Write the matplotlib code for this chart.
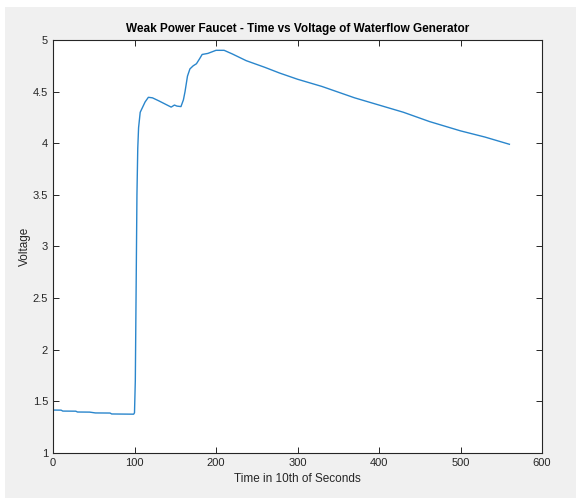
import matplotlib.pyplot as plt
from matplotlib.patches import Rectangle

# values
time = [0, 10, 12, 28, 30, 45, 52, 70, 72, 99, 100, 101, 102, 103, 104, 105,
        107, 110, 113, 117, 122, 130, 140, 145, 149, 152, 157, 160, 162, 165,
        168, 172, 176, 180, 183, 190, 200, 210, 220, 237, 260, 278, 300, 330,
        370, 400, 430, 462, 500, 530, 560]
voltage = [1.416, 1.415, 1.406, 1.405, 1.397, 1.396, 1.388, 1.387, 1.378, 1.376,
           1.39, 1.7, 2.6, 3.5, 3.95, 4.15, 4.3, 4.35, 4.40, 4.445, 4.44, 4.41,
           4.37, 4.35, 4.37, 4.36, 4.355, 4.42, 4.5, 4.65, 4.72, 4.75, 4.77,
           4.82, 4.86, 4.87, 4.90, 4.90, 4.865, 4.80, 4.735, 4.68, 4.62, 4.55,
           4.44, 4.37, 4.30, 4.21, 4.12, 4.06, 3.99]

plt.rcParams['font.family'] = ['Liberation Sans', 'DejaVu Sans']

fig = plt.figure(figsize=(5.76, 4.98), dpi=100)
fig.patch.set_facecolor('white')
fig.patches.append(Rectangle((5 / 576, 0), 1, 491 / 498, transform=fig.transFigure,
                             facecolor='#f0f0f0', edgecolor='none', zorder=-10))

ax = fig.add_axes([53 / 576, 45 / 498, 489 / 576, 413 / 498])
ax.plot(time, voltage, color='#2a86cc', linewidth=1.0)

ax.set_xlim(0, 600)
ax.set_ylim(1, 5)
ax.set_xticks(range(0, 601, 100))
ax.set_yticks([1, 1.5, 2, 2.5, 3, 3.5, 4, 4.5, 5])
ax.set_yticklabels(['1', '1.5', '2', '2.5', '3', '3.5', '4', '4.5', '5'])
ax.tick_params(direction='in', top=True, right=True, length=4, width=0.7,
               labelsize=8, colors='#262626')
for s in ax.spines.values():
    s.set_color('#262626')
    s.set_linewidth(0.8)

ax.set_title('Weak Power Faucet - Time vs Voltage of Waterflow Generator',
             fontsize=8.5, fontweight='bold', pad=6)
ax.set_xlabel('Time in 10th of Seconds', fontsize=8.5, color='#262626')
ax.set_ylabel('Voltage', fontsize=8.5, color='#262626', labelpad=1)

fig.savefig('out.png', dpi=100)
